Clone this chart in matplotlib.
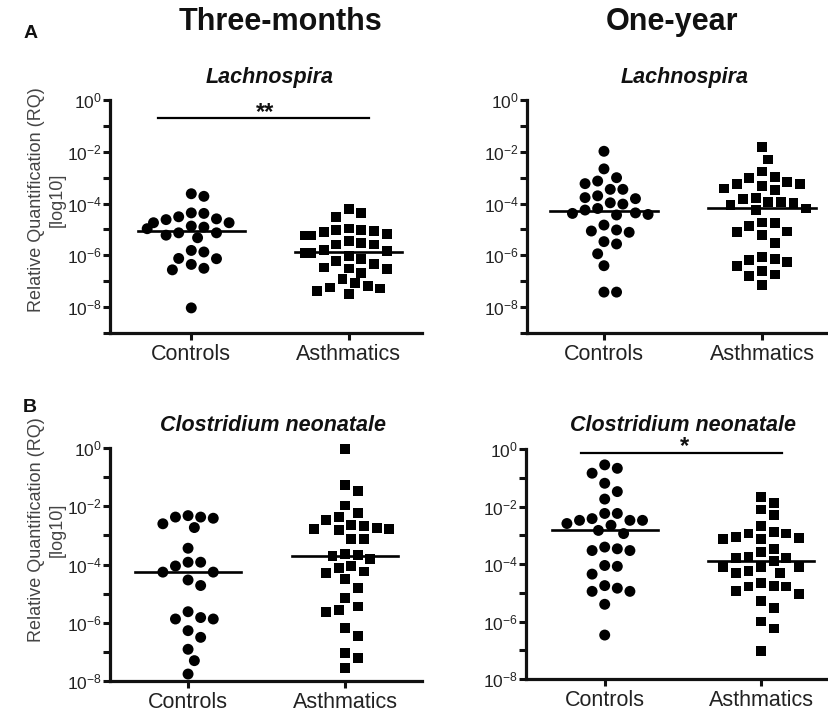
import numpy as np
import matplotlib
matplotlib.use("Agg")
import matplotlib.pyplot as plt
from matplotlib.ticker import FixedLocator, FixedFormatter, NullFormatter

plt.rcParams['font.family'] = ['Liberation Sans', 'DejaVu Sans']
plt.rcParams['mathtext.fontset'] = 'custom'
plt.rcParams['mathtext.rm'] = 'Liberation Sans'

# log10(RQ) values
groups = ['Controls', 'Asthmatics']

lach_3m_ctrl = [-3.62, -3.72, -4.36, -4.38, -4.51, -4.59, -4.62, -4.74, -4.74, -4.87, -4.91, -4.97,
                -5.13, -5.13, -5.22, -5.32, -5.81, -5.87, -6.12, -6.13, -6.35, -6.50, -6.56, -8.03]
lach_3m_asth = [-4.21, -4.36, -4.51, -4.96, -5.03, -5.03, -5.06, -5.10, -5.19, -5.23, -5.23, -5.45,
                -5.51, -5.58, -5.58, -5.79, -5.83, -5.90, -5.90, -6.03, -6.15, -6.22, -6.32, -6.47,
                -6.51, -6.54, -6.67, -6.92, -7.08, -7.18, -7.24, -7.28, -7.37, -7.50]
lach_1y_ctrl = [-1.98, -2.66, -3.00, -3.13, -3.23, -3.45, -3.45, -3.70, -3.77, -3.81, -3.97, -4.02,
                -4.19, -4.25, -4.36, -4.38, -4.42, -4.44, -4.83, -5.02, -5.06, -5.11, -5.47, -5.56,
                -5.94, -6.40, -7.42, -7.42]
lach_1y_asth = [-1.83, -2.30, -2.76, -2.98, -3.01, -3.17, -3.23, -3.23, -3.32, -3.42, -3.46, -3.77,
                -3.81, -3.93, -3.93, -3.97, -4.04, -4.19, -4.25, -4.73, -4.76, -4.87, -5.08, -5.11,
                -5.21, -5.53, -6.07, -6.14, -6.19, -6.27, -6.42, -6.59, -6.74, -6.81, -7.13]
clos_3m_ctrl = [-2.32, -2.37, -2.37, -2.41, -2.60, -2.73, -3.44, -3.92, -3.92, -4.05, -4.26, -4.26,
                -4.53, -4.72, -5.62, -5.82, -5.87, -5.87, -6.27, -6.50, -6.91, -7.30, -7.76]
clos_3m_asth = [-0.03, -1.26, -1.47, -1.97, -2.23, -2.38, -2.46, -2.64, -2.69, -2.75, -2.79, -2.79,
                -2.81, -3.13, -3.13, -3.64, -3.67, -3.72, -3.82, -4.05, -4.13, -4.24, -4.30, -4.50,
                -4.81, -5.16, -5.44, -5.56, -5.62, -6.17, -6.45, -7.05, -7.22, -7.56]
clos_1y_ctrl = [-0.55, -0.67, -0.84, -1.19, -1.48, -1.74, -2.24, -2.24, -2.42, -2.48, -2.48, -2.48,
                -2.59, -2.65, -2.83, -2.94, -3.41, -3.47, -3.53, -3.53, -4.05, -4.08, -4.35, -4.75,
                -4.84, -4.95, -4.95, -5.40, -6.47]
clos_1y_asth = [-1.66, -1.87, -2.10, -2.30, -2.69, -2.89, -2.94, -2.94, -3.06, -3.08, -3.14, -3.14,
                -3.47, -3.59, -3.76, -3.79, -3.79, -3.90, -4.11, -4.11, -4.11, -4.23, -4.31, -4.31,
                -4.67, -4.75, -4.78, -4.78, -4.95, -5.05, -5.28, -5.54, -6.00, -6.24, -7.03]

DPI = 100
fig = plt.figure(figsize=(8.29, 7.12), dpi=DPI)


def swarm_x(ax, xc, logv):
    # simple beeswarm: spread points sideways in pixel space so they don't overlap
    v = 10 ** np.asarray(logv)
    pts = ax.transData.transform(np.column_stack([np.full(len(v), xc), v]))
    unit_px = ax.transData.transform((1, 1))[0] - ax.transData.transform((0, 1))[0]
    ys = pts[:, 1]
    step = 6.3
    mind = 12.2
    placed = []
    offs = np.zeros(len(v))
    for i in np.argsort(-ys):
        for k in [0, 1, -1, 2, -2, 3, -3, 4, -4, 5, -5, 6, -6, 7, -7]:
            dx = k * step
            if all((dx - px) ** 2 + (ys[i] - py) ** 2 >= mind ** 2 for px, py in placed):
                break
        placed.append((dx, ys[i]))
        offs[i] = dx
    return xc + offs / unit_px, v


def panel(rect, xlim, ylim_low, ctrl, asth):
    ax = fig.add_axes(rect)
    ax.set_yscale('log')
    ax.set_xlim(*xlim)
    ax.set_ylim(ylim_low, 1)
    for s in ['top', 'right']:
        ax.spines[s].set_visible(False)
    for s in ['left', 'bottom']:
        ax.spines[s].set_linewidth(2.3)
        ax.spines[s].set_color('#111')
    majors = [10.0 ** e for e in range(0, -9, -2)]
    minors = [10.0 ** e for e in range(-1, -10, -2)]
    ax.yaxis.set_major_locator(FixedLocator(majors))
    ax.yaxis.set_major_formatter(FixedFormatter([r'$\mathregular{10^{%d}}$' % e for e in range(0, -9, -2)]))
    ax.yaxis.set_minor_locator(FixedLocator(minors))
    ax.yaxis.set_minor_formatter(NullFormatter())
    ax.tick_params(axis='y', which='both', direction='out', length=5, width=2.2, color='#111',
                   labelsize=12.5, labelcolor='#222', pad=1)
    ax.set_xticks([0, 1])
    ax.set_xticklabels(groups)
    ax.tick_params(axis='x', direction='out', length=5, width=2.2, color='#111',
                   labelsize=15.5, labelcolor='#222', pad=3)
    ax.patch.set_alpha(0)

    for xc, data, mk, sz in [(0, ctrl, 'o', 62), (1, asth, 's', 50)]:
        xs, v = swarm_x(ax, xc, data)
        ax.scatter(xs, v, marker=mk, s=sz, color='black', edgecolors='none', clip_on=False, zorder=3)
        med = 10 ** np.median(data)
        ax.plot([xc - 0.34, xc + 0.34], [med, med], color='black', lw=1.9, zorder=4)
    return ax


ax1 = panel([0.1327, 0.5323, 0.3764, 0.3272], (-0.516, 1.465), 1e-9, lach_3m_ctrl, lach_3m_asth)
ax2 = panel([0.6357, 0.5323, 0.3643, 0.3272], (-0.487, 1.424), 1e-9, lach_1y_ctrl, lach_1y_asth)
ax3 = panel([0.1327, 0.0435, 0.3764, 0.3272], (-0.497, 1.49), 1e-8, clos_3m_ctrl, clos_3m_asth)
ax4 = panel([0.6345, 0.0463, 0.3643, 0.3230], (-0.503, 1.427), 1e-8, clos_1y_ctrl, clos_1y_asth)


def ftext(x, y, s, **kw):
    # text placed in figure pixels (origin top-left)
    fig.text(x / 829, 1 - y / 712, s, **kw)


sub = dict(fontsize=15.5, fontweight='bold', style='italic', color='#111', ha='center', va='center')
ftext(270, 78, 'Lachnospira', **sub)
ftext(685, 78, 'Lachnospira', **sub)
ftext(273, 425, 'Clostridium neonatale', **sub)
ftext(683, 425, 'Clostridium neonatale', **sub)

ftext(281, 22, 'Three-months', fontsize=22, fontweight='bold', color='#111', ha='center', va='center')
ftext(672, 22, 'One-year', fontsize=22, fontweight='bold', color='#111', ha='center', va='center')
ftext(31, 34, 'A', fontsize=14, fontweight='bold', color='#111', ha='center', va='center')
ftext(30, 408, 'B', fontsize=14, fontweight='bold', color='#111', ha='center', va='center')

ylab = 'Relative Quantification (RQ)\n[log10]'
for yy in [200, 530]:
    ftext(47, yy, ylab, fontsize=13, color='#444', rotation=90, ha='center', va='center',
          multialignment='center', linespacing=1.25)

# significance bars
ax1.plot([-0.21, 1.13], [0.2, 0.2], color='black', lw=1.6, clip_on=False)
ax1.text(0.47, 0.33, '**', ha='center', va='center', fontsize=17, fontweight='bold', color='#111')
ax4.plot([-0.15, 1.13], [0.72, 0.72], color='black', lw=1.6, clip_on=False)
ax4.text(0.51, 1.25, '*', ha='center', va='center', fontsize=17, fontweight='bold', color='#111')

fig.savefig('out.png', dpi=DPI)
